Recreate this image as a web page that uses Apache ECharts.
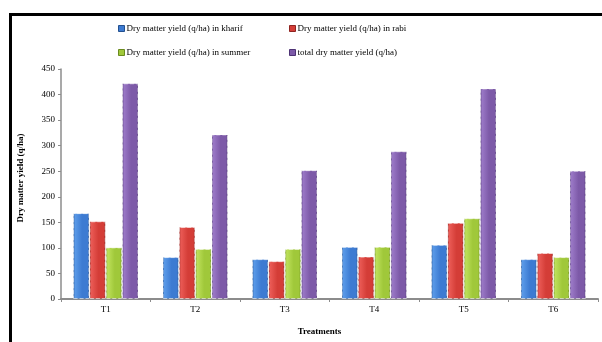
<!DOCTYPE html>
<html>
<head>
<meta charset="utf-8">
<script src="https://cdn.jsdelivr.net/npm/echarts@6/dist/echarts.min.js"></script>
<style>
  html, body { margin: 0; padding: 0; background: #fff; }
  #chart { width: 602px; height: 342px; }
</style>
</head>
<body>
<div id="chart"></div>
<script>
// Treatments on the x axis
const categories = ['T1', 'T2', 'T3', 'T4', 'T5', 'T6'];

// Dry matter yield (q/ha) per season and the total
const kharif = [168, 82, 78, 102, 106, 78];
const rabi = [152, 141, 74, 83, 149, 90];
const summer = [101, 98, 98, 102, 158, 82];
const total = [422, 322, 252, 289, 412, 251];

const seriesNames = [
  'Dry matter yield (q/ha) in kharif',
  'Dry matter yield (q/ha) in rabi',
  'Dry matter yield (q/ha) in summer',
  'total dry matter yield (q/ha)'
];
const seriesData = [kharif, rabi, summer, total];

// [dark edge, light, mid, dark edge] for a rounded, shaded bar
const palettes = [
  ['#23508f', '#5a9ae8', '#3d7bd2', '#244f8c'],
  ['#8f2421', '#ea5a55', '#d43d37', '#8c2320'],
  ['#6a8a1f', '#bde05a', '#a0c83a', '#67861e'],
  ['#4e3375', '#9a78c6', '#7d5aa8', '#4a3070']
];

function shade(p) {
  return new echarts.graphic.LinearGradient(0, 0, 1, 0, [
    { offset: 0, color: p[0] },
    { offset: 0.12, color: p[1] },
    { offset: 0.55, color: p[2] },
    { offset: 0.88, color: p[2] },
    { offset: 1, color: p[3] }
  ]);
}

const font = '"Liberation Serif", "Times New Roman", serif';
const axisGray = '#8c8c8c';

const series = seriesNames.map((name, i) => ({
  name: name,
  type: 'bar',
  data: seriesData[i],
  barGap: '0%',
  barCategoryGap: '27%',
  itemStyle: {
    color: shade(palettes[i]),
    borderColor: 'rgba(255,255,255,0.55)',
    borderType: 'dashed',
    borderWidth: 1
  },
  emphasis: { disabled: true }
}));

// legend: two rows of two entries
const legendPos = [
  { left: 118, top: 24 },
  { left: 289, top: 24 },
  { left: 118, top: 48 },
  { left: 289, top: 48 }
];
const legends = seriesNames.map((name, i) => ({
  data: [{ name: name, itemStyle: { color: palettes[i][2], borderColor: palettes[i][0], borderWidth: 1 } }],
  left: legendPos[i].left,
  top: legendPos[i].top,
  icon: 'rect',
  itemWidth: 6,
  itemHeight: 6,
  padding: 0,
  textStyle: { fontFamily: font, fontSize: 9, color: '#000', padding: [0, 0, 0, -3] }
}));

const chart = echarts.init(document.getElementById('chart'), null, { renderer: 'canvas' });
chart.setOption({
  animation: false,
  backgroundColor: '#fff',
  graphic: [{
    type: 'rect',
    shape: { x: 10.5, y: 14.5, width: 640, height: 360 },
    style: { fill: 'none', stroke: '#000', lineWidth: 3 },
    silent: true,
    z: 100
  }],
  legend: legends,
  grid: { left: 61, right: 4, top: 69, bottom: 43 },
  xAxis: {
    type: 'category',
    data: categories,
    name: 'Treatments',
    nameLocation: 'middle',
    nameGap: 28,
    nameTextStyle: { fontFamily: font, fontSize: 9, fontWeight: 'bold', color: '#000', padding: [0, 20, 0, 0] },
    axisLine: { lineStyle: { color: axisGray, width: 2 } },
    axisTick: { show: true, length: 3, lineStyle: { color: axisGray } },
    axisLabel: { fontFamily: font, fontSize: 9, color: '#000', margin: 6 }
  },
  yAxis: {
    type: 'value',
    min: 0,
    max: 450,
    interval: 50,
    name: 'Dry matter yield (q/ha)',
    nameLocation: 'middle',
    nameGap: 36,
    nameTextStyle: { fontFamily: font, fontSize: 9, fontWeight: 'bold', color: '#000', padding: [0, 0, 0, 12] },
    axisLine: { show: true, lineStyle: { color: axisGray, width: 1.5 } },
    axisTick: { show: true, length: 3, lineStyle: { color: axisGray } },
    axisLabel: { fontFamily: font, fontSize: 9, color: '#000', margin: 6 },
    splitLine: { show: false }
  },
  series: series
});
</script>
</body>
</html>
